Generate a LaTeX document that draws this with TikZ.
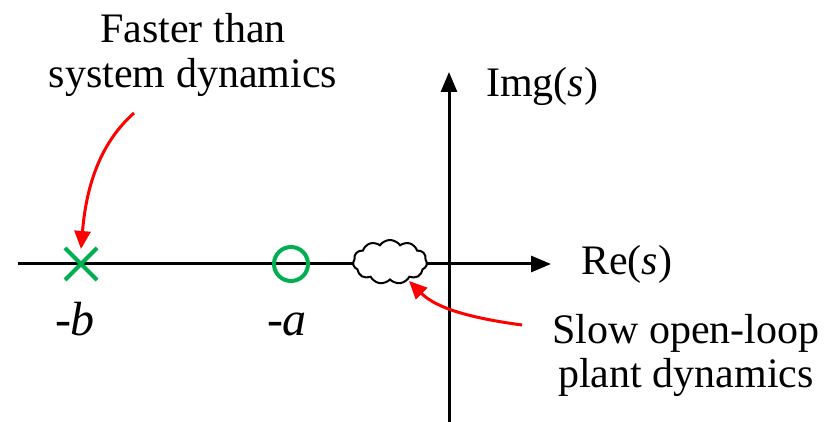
\documentclass[tikz,border=0pt]{standalone}
\usepackage{fontspec}
\setmainfont{Liberation Serif}
\usetikzlibrary{arrows.meta,shapes.symbols}
\definecolor{pzgreen}{RGB}{0,176,80}
\begin{document}
\begin{tikzpicture}[x=1pt,y=-1pt,
  axisline/.style={line width=3pt,-{Triangle[length=20pt,width=16pt]}},
  redarrow/.style={red,line width=3pt,-{Triangle[length=18pt,width=16pt]}},
  lbl/.style={font=\fontsize{42}{45}\selectfont,align=center,inner sep=0pt},
  var/.style={font=\fontsize{48}{52}\selectfont\itshape,inner sep=0pt},
  pzmark/.style={pzgreen,line width=4pt}]
\useasboundingbox (0,0) rectangle (828,422);
% axes
\coordinate (xl) at (18,264);
\coordinate (xr) at (551,264);
\coordinate (yb) at (449,422);
\coordinate (yt) at (449,72);
\draw[axisline] (xl) -- (xr);
\draw[axisline] (yb) -- (yt);
% cloud
\node[cloud, cloud puffs=11, cloud puff arc=110, aspect=1.7, draw, fill=white,
      line width=2pt, minimum width=74pt, minimum height=44pt, inner sep=0pt] (cl) at (390,262) {};
% pole x and zero o
\coordinate (pb) at (81,264);
\draw[pzmark] (65,248) -- (97,280) (65,280) -- (97,248);
\node[pzmark, draw, circle, minimum size=34pt, inner sep=0pt] (za) at (291,264) {};
% labels
\node[lbl, anchor=base] (fast) at (193,88) {Faster than\\system dynamics};
\node[lbl, anchor=base west] (img) at (486,97) {Img(\textit{s})};
\node[lbl, anchor=base west] (re) at (581,275) {Re(\textit{s})};
\node[var, anchor=base] (mb) at (75,335) {-b};
\node[var, anchor=base] (ma) at (287,335) {-a};
\node[lbl, anchor=base] (slow) at (686,388) {Slow open-loop\\plant dynamics};
% red arrows
\coordinate (s1) at (134,113);
\coordinate (s2) at (522,325);
\draw[redarrow] (s1) .. controls (98,145) and (86,190) .. (81,249);
\draw[redarrow] (s2) .. controls (470,318) and (436,308) .. (409,281);
\end{tikzpicture}
\end{document}
